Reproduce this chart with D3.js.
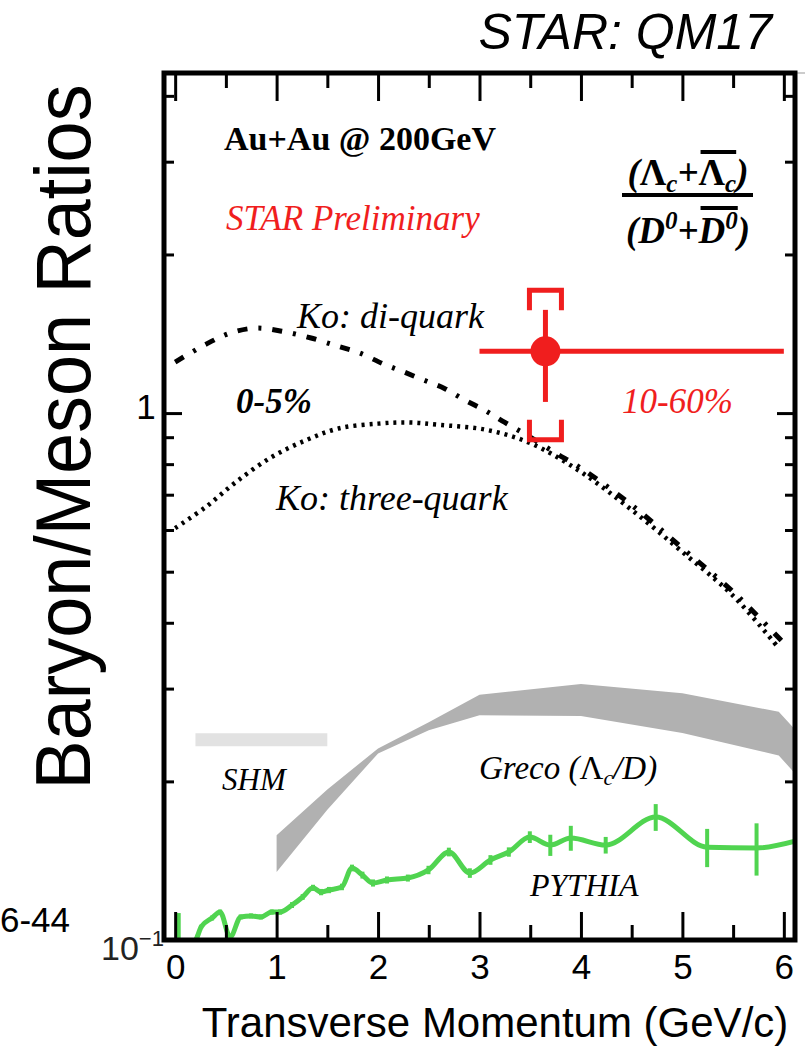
<!DOCTYPE html>
<html><head><meta charset="utf-8">
<script src="https://cdn.jsdelivr.net/npm/d3@7"></script>
<style>
html,body{margin:0;padding:0;background:#fff;}
svg{display:block;}
</style></head><body>
<svg id="chart" width="809" height="1050"></svg>
<script>
// ---- axis ticks ----
const xTicksMajor = [0, 1, 2, 3, 4, 5, 6];
const xTicksMinor = [0.5, 1.5, 2.5, 3.5, 4.5, 5.5];
const xTickLabels = ["0", "1", "2", "3", "4", "5", "6"];
const yTicksMajor = [1];
const yTicksMinor = [0.2, 0.3, 0.4, 0.5, 0.6, 0.7, 0.8, 0.9, 2, 3, 4];

// ---- STAR Lambda_c / D0, 10-60% ----
const starX = 3.65, starY = 1.31;
const starXLo = 3, starXHi = 6;
const starStatLo = 1.05, starStatHi = 1.57;
const starSysLo = 0.89, starSysHi = 1.71;

// ---- Ko coalescence, di-quark ----
const koDiX = [0.0, 0.3, 0.55, 0.8, 1.05, 1.33, 1.6, 1.82, 2.05, 2.24, 2.45, 2.65, 2.85, 3.06, 3.25, 3.5, 3.75, 4.0, 4.5, 5.0, 5.5, 6.0];
const koDiY = [1.25, 1.35, 1.42, 1.45, 1.43, 1.39, 1.34, 1.30, 1.24, 1.20, 1.155, 1.115, 1.06, 1.01, 0.96, 0.90, 0.84, 0.786, 0.669, 0.554, 0.458, 0.366];

// ---- Ko coalescence, three-quark ----
const koThX = [0.0, 0.3, 0.6, 0.95, 1.3, 1.61, 2.0, 2.3, 2.6, 3.06, 3.5, 4.0, 4.5, 5.0, 5.5, 5.95];
const koThY = [0.605, 0.663, 0.74, 0.825, 0.89, 0.935, 0.955, 0.96, 0.95, 0.93, 0.877, 0.773, 0.655, 0.545, 0.450, 0.358];

// ---- Greco band ----
const grecoX  = [1.0, 1.5, 2.0, 2.5, 3.0, 4.0, 5.0, 5.95, 6.11];
const grecoLo = [0.1346, 0.1766, 0.226, 0.250, 0.267, 0.266, 0.247, 0.224, 0.207];
const grecoHi = [0.158, 0.193, 0.231, 0.259, 0.292, 0.306, 0.294, 0.271, 0.251];

// ---- SHM ----
const shmX = [0.2, 1.5];
const shmY = 0.24;

// ---- PYTHIA ----
const pyX = [0.035, 0.217, 0.256, 0.364, 0.443, 0.542, 0.646, 0.748, 0.847, 0.951, 1.034, 1.152, 1.257, 1.359, 1.438, 1.516, 1.644, 1.743, 1.846, 1.950, 2.088, 2.294, 2.497, 2.698, 2.905, 3.108, 3.289, 3.496, 3.698, 3.900, 4.244, 4.737, 5.244, 5.731, 6.11];
const pyY = [0.090, 0.1013, 0.1059, 0.1101, 0.1130, 0.1013, 0.1106, 0.1111, 0.1106, 0.1130, 0.1130, 0.1165, 0.1207, 0.1256, 0.1233, 0.1244, 0.1261, 0.1370, 0.1328, 0.1283, 0.1300, 0.1311, 0.1358, 0.1469, 0.1340, 0.1419, 0.1469, 0.1568, 0.1514, 0.1562, 0.1514, 0.1711, 0.150, 0.1495, 0.1540];
const pyErr = [0.0225, 0.001, 0.001, 0.0012, 0.0012, 0.001, 0.0012, 0.0012, 0.0012, 0.0013, 0.0013, 0.0015, 0.0015, 0.0017, 0.0017, 0.0017, 0.0018, 0.002, 0.002, 0.002, 0.002, 0.002, 0.0025, 0.0028, 0.0028, 0.003, 0.003, 0.004, 0.007, 0.0085, 0.0055, 0.010, 0.0125, 0.017, 0];

const svg = d3.select("#chart");
const L = 164, R = 795, T = 73, B = 940;

const x = d3.scaleLinear().domain([-0.11, 6.11]).range([L, R]);
const y = d3.scaleLog().domain([0.1, 4.42]).range([B, T]);

const serif = "'Liberation Serif', 'Times New Roman', serif";
const sans = "'Liberation Sans', Arial, Helvetica, sans-serif";
const red = "#f01e1e";
const green = "#50d450";

svg.append("defs").append("clipPath").attr("id", "plotclip")
  .append("rect").attr("x", L).attr("y", T).attr("width", R - L).attr("height", B - T);

const plot = svg.append("g").attr("clip-path", "url(#plotclip)");

// SHM bar
plot.append("line")
  .attr("x1", x(shmX[0])).attr("x2", x(shmX[1]))
  .attr("y1", y(shmY)).attr("y2", y(shmY))
  .attr("stroke", "#e2e2e2").attr("stroke-width", 13);

// Greco band
const grecoData = grecoX.map((v, i) => ({x: v, lo: grecoLo[i], hi: grecoHi[i]}));
plot.append("path").datum(grecoData)
  .attr("fill", "#b1b1b1")
  .attr("d", d3.area().x(d => x(d.x)).y0(d => y(d.lo)).y1(d => y(d.hi)));

// PYTHIA
const pyData = pyX.map((v, i) => ({x: v, y: pyY[i], e: pyErr[i]}));
plot.append("path").datum(pyData)
  .attr("fill", "none").attr("stroke", green).attr("stroke-width", 5)
  .attr("stroke-linejoin", "round")
  .attr("d", d3.line().x(d => x(d.x)).y(d => y(d.y)).curve(d3.curveMonotoneX));
plot.selectAll(".pyerr").data(pyData.filter(d => d.e > 0)).enter().append("line")
  .attr("class", "pyerr")
  .attr("x1", d => x(d.x)).attr("x2", d => x(d.x))
  .attr("y1", d => y(d.y - d.e)).attr("y2", d => y(d.y + d.e))
  .attr("stroke", green).attr("stroke-width", 4);

// Ko curves
const koLine = d3.line().x(d => x(d[0])).y(d => y(d[1])).curve(d3.curveCatmullRom);
plot.append("path").datum(koThX.map((v, i) => [v, koThY[i]]))
  .attr("fill", "none").attr("stroke", "#000").attr("stroke-width", 4.5)
  .attr("stroke-dasharray", "3,5")
  .attr("d", koLine);
plot.append("path").datum(koDiX.map((v, i) => [v, koDiY[i]]))
  .attr("fill", "none").attr("stroke", "#000").attr("stroke-width", 5)
  .attr("stroke-dasharray", "10,11,3,11")
  .attr("d", koLine);

// STAR point
const star = plot.append("g");
star.append("line")
  .attr("x1", x(starXLo)).attr("x2", x(starXHi)).attr("y1", y(starY)).attr("y2", y(starY))
  .attr("stroke", red).attr("stroke-width", 5);
star.append("line")
  .attr("x1", x(starX)).attr("x2", x(starX)).attr("y1", y(starStatLo)).attr("y2", y(starStatHi))
  .attr("stroke", red).attr("stroke-width", 5);
const bw = 16, arm = 20;
star.append("path")
  .attr("fill", "none").attr("stroke", red).attr("stroke-width", 5)
  .attr("d", `M${x(starX) - bw},${y(starSysHi) + arm}V${y(starSysHi)}H${x(starX) + bw}V${y(starSysHi) + arm}` +
             `M${x(starX) - bw},${y(starSysLo) - arm}V${y(starSysLo)}H${x(starX) + bw}V${y(starSysLo) - arm}`);
star.append("circle").attr("cx", x(starX)).attr("cy", y(starY)).attr("r", 15).attr("fill", red);

// axes (ticks point inward)
function styleAxis(g) {
  g.select(".domain").remove();
  g.selectAll(".tick line").attr("stroke", "#000").attr("stroke-width", 3);
}
svg.append("g").attr("transform", `translate(0,${B})`)
  .call(d3.axisBottom(x).tickValues(xTicksMajor).tickSize(-28).tickPadding(14)
    .tickFormat((d, i) => xTickLabels[i]))
  .call(styleAxis)
  .call(g => g.selectAll("text").attr("font-family", sans).attr("font-size", 35).attr("fill", "#000"));
svg.append("g").attr("transform", `translate(0,${B})`)
  .call(d3.axisBottom(x).tickValues(xTicksMinor).tickSize(-15).tickFormat(""))
  .call(styleAxis);
svg.append("g").attr("transform", `translate(0,${T})`)
  .call(d3.axisTop(x).tickValues(xTicksMajor).tickSize(-28).tickFormat(""))
  .call(styleAxis);
svg.append("g").attr("transform", `translate(0,${T})`)
  .call(d3.axisTop(x).tickValues(xTicksMinor).tickSize(-15).tickFormat(""))
  .call(styleAxis);
svg.append("g").attr("transform", `translate(${L},0)`)
  .call(d3.axisLeft(y).tickValues(yTicksMajor).tickSize(-18).tickFormat(""))
  .call(styleAxis);
svg.append("g").attr("transform", `translate(${L},0)`)
  .call(d3.axisLeft(y).tickValues(yTicksMinor).tickSize(-10).tickFormat(""))
  .call(styleAxis);
svg.append("g").attr("transform", `translate(${R},0)`)
  .call(d3.axisRight(y).tickValues(yTicksMajor).tickSize(-18).tickFormat(""))
  .call(styleAxis);
svg.append("g").attr("transform", `translate(${R},0)`)
  .call(d3.axisRight(y).tickValues(yTicksMinor).tickSize(-10).tickFormat(""))
  .call(styleAxis);

// frame
svg.append("line").attr("x1", L).attr("x2", 805).attr("y1", T).attr("y2", T)
  .attr("stroke", "#bbb").attr("stroke-width", 1.5);
svg.append("rect").attr("x", L).attr("y", T).attr("width", R - L).attr("height", B - T)
  .attr("fill", "none").attr("stroke", "#000").attr("stroke-width", 5);

// y tick labels
svg.append("text").attr("x", 146).attr("y", y(1) + 6).attr("text-anchor", "middle")
  .attr("font-family", sans).attr("font-size", 35).text("1");
const tenLab = svg.append("text").attr("x", 101).attr("y", y(0.1) + 20)
  .attr("font-family", sans).attr("font-size", 34).attr("font-weight", 300).attr("fill", "#222");
tenLab.append("tspan").text("10");
tenLab.append("tspan").attr("dy", -14).attr("font-size", 22).text("\u22121");

// axis titles
svg.append("text").attr("x", 495).attr("y", 1037).attr("text-anchor", "middle")
  .attr("font-family", sans).attr("font-size", 42).text("Transverse Momentum (GeV/c)");
svg.append("text").attr("transform", "translate(90,437) rotate(-90)").attr("text-anchor", "middle")
  .attr("font-family", sans).attr("font-size", 78)
  .attr("textLength", 705).attr("lengthAdjust", "spacingAndGlyphs")
  .text("Baryon/Meson Ratios");
svg.append("text").attr("x", 772).attr("y", 49).attr("text-anchor", "end")
  .attr("font-family", sans).attr("font-style", "italic").attr("font-size", 50).text("STAR: QM17");
svg.append("text").attr("x", 0).attr("y", 932)
  .attr("font-family", sans).attr("font-size", 35).text("6-44");

// annotations
function note(tx, ty, s, opts) {
  const t = svg.append("text").attr("x", tx).attr("y", ty)
    .attr("font-family", serif).attr("font-size", opts.size || 34)
    .attr("font-style", opts.italic ? "italic" : "normal")
    .attr("font-weight", opts.bold ? "bold" : "normal")
    .attr("fill", opts.color || "#000");
  if (typeof s === "string") t.text(s); else s(t);
  return t;
}
note(224, 150, "Au+Au @ 200GeV", {bold: true, size: 34});
note(226, 230, "STAR Preliminary", {italic: true, color: red, size: 35});
note(297, 328, "Ko: di-quark", {italic: true, size: 36});
note(236, 413, "0-5%", {italic: true, bold: true, size: 35});
note(622, 413, "10-60%", {italic: true, color: red, size: 35});
note(276, 510, "Ko: three-quark", {italic: true, size: 36});
note(222, 790, "SHM", {italic: true, size: 31});
note(479, 779, t => {
  t.append("tspan").attr("font-style", "normal").text("Greco (\u039B");
  t.append("tspan").attr("font-size", 22).attr("dy", 6).text("c");
  t.append("tspan").attr("dy", -6).text("/D)");
}, {italic: true, size: 33});
// "Greco (" stays italic; only the Lambda is upright
{
  const g = svg.selectAll("text").filter(function() { return this.textContent.startsWith("Greco"); });
  g.select("tspan").remove();
  g.insert("tspan", ":first-child").attr("font-style", "normal").text("\u039B");
  g.insert("tspan", ":first-child").text("Greco (");
}
note(530, 896, "PYTHIA", {italic: true, size: 32});

// fraction Lambda_c / D0
const fx = 688;
const num = note(fx, 185, t => {
  t.append("tspan").text("(");
  t.append("tspan").attr("font-style", "normal").text("\u039B");
  t.append("tspan").attr("font-size", 25).attr("dy", 7).text("c");
  t.append("tspan").attr("dy", -7).text("+");
  t.append("tspan").attr("font-style", "normal").text("\u039B");
  t.append("tspan").attr("font-size", 25).attr("dy", 7).text("c");
  t.append("tspan").attr("dy", -7).text(")");
}, {italic: true, bold: true, size: 37}).attr("text-anchor", "middle");
const den = note(fx, 243, t => {
  t.append("tspan").text("(D");
  t.append("tspan").attr("font-size", 25).attr("dy", -14).text("0");
  t.append("tspan").attr("dy", 14).text("+D");
  t.append("tspan").attr("font-size", 25).attr("dy", -14).text("0");
  t.append("tspan").attr("dy", 14).text(")");
}, {italic: true, bold: true, size: 37}).attr("text-anchor", "middle");
svg.append("line").attr("x1", 622).attr("x2", 753).attr("y1", 195).attr("y2", 195)
  .attr("stroke", "#000").attr("stroke-width", 4);
function overline(textSel, i0, i1, yy) {
  const n = textSel.node();
  const a = n.getExtentOfChar(i0), b = n.getExtentOfChar(i1);
  svg.append("line").attr("x1", a.x + 2).attr("x2", b.x + b.width)
    .attr("y1", yy).attr("y2", yy).attr("stroke", "#000").attr("stroke-width", 4);
}
overline(num, 4, 5, 152);
overline(den, 4, 5, 208);
</script>
</body></html>
